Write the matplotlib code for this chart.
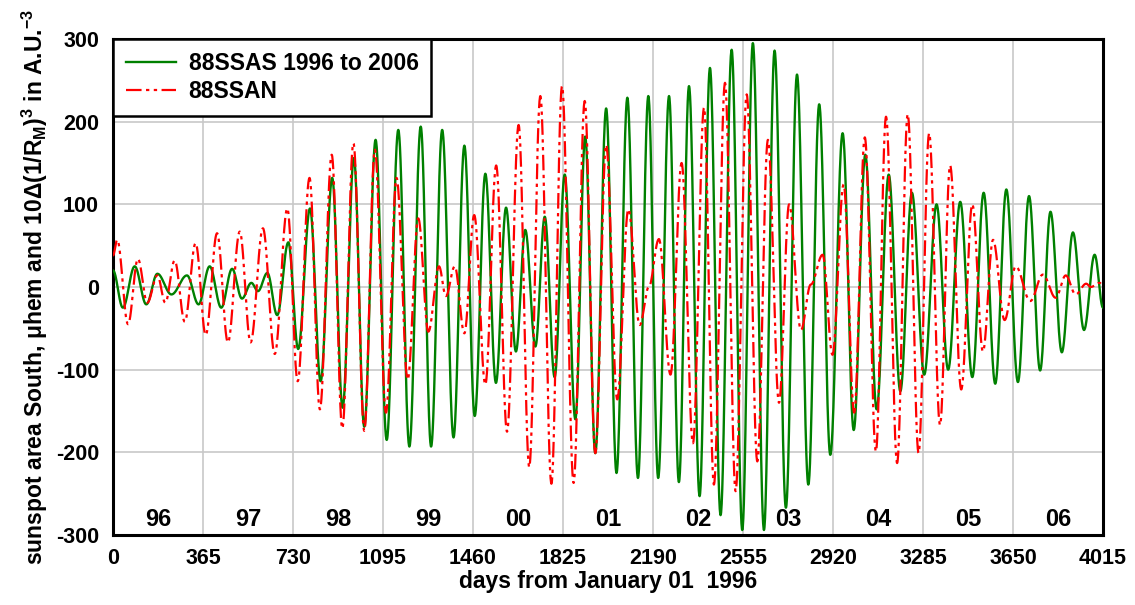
import numpy as np
import matplotlib
matplotlib.use("Agg")
import matplotlib.pyplot as plt

plt.rcParams['font.family'] = ['Liberation Sans', 'DejaVu Sans']
plt.rcParams['font.weight'] = 'bold'
plt.rcParams['mathtext.fontset'] = 'custom'
plt.rcParams['mathtext.rm'] = 'Liberation Sans:bold'
plt.rcParams['mathtext.it'] = 'Liberation Sans:bold'
plt.rcParams['mathtext.bf'] = 'Liberation Sans:bold'

# ---- data: extrema (day, value) ----
ssas_days = [0, 40, 88, 135, 180, 237, 300, 347, 392, 439, 483, 523, 561, 588, 626, 666,
             711, 751, 799, 842, 889, 931, 977, 1019, 1065, 1110, 1157, 1202, 1248, 1290,
             1335, 1381, 1425, 1467, 1510, 1553, 1594, 1634, 1672, 1713, 1751, 1791, 1832,
             1875, 1915, 1956, 2000, 2042, 2086, 2129, 2171, 2211, 2255, 2295, 2336, 2379,
             2421, 2464, 2509, 2552, 2595, 2640, 2683, 2729, 2774, 2820, 2864, 2909, 2959,
             3004, 3051, 3097, 3146, 3193, 3240, 3290, 3340, 3387, 3436, 3485, 3531, 3578,
             3623, 3670, 3715, 3760, 3802, 3848, 3893, 3938, 3981, 4015]
ssas_vals = [20, -25, 25, -21, 16, -9, 14, -21, 25, -25, 22, -14, 5, -5, 17, -34,
             54, -75, 95, -114, 132, -146, 156, -169, 178, -185, 190, -193, 194, -193,
             190, -182, 171, -156, 137, -116, 96, -78, 69, -72, 85, -109, 136,
             -160, 182, -201, 216, -225, 229, -231, 231, -231, 231, -236, 243, -253,
             265, -276, 287, -294, 295, -294, 286, -267, 257, -239, 221, -203, 186,
             -173, 160, -148, 136, -126, 114, -106, 100, -100, 103, -109, 114, -117,
             118, -115, 110, -101, 91, -79, 66, -52, 39, -25]

ssan_days = [0, 17, 61, 101, 139, 180, 212, 250, 291, 335, 376, 422, 466, 514, 558, 608, 656,
             707, 749, 797, 839, 887, 930, 975, 1019, 1062, 1107, 1150, 1195, 1238, 1279,
             1322, 1350, 1386, 1425, 1465, 1510, 1554, 1598, 1645, 1688, 1733, 1778, 1821,
             1868, 1913, 1956, 2000, 2045, 2090, 2136, 2173, 2214, 2261, 2306, 2352, 2397,
             2437, 2482, 2525, 2570, 2613, 2656, 2701, 2742, 2790, 2830, 2878, 2918, 2963,
             3006, 3049, 3094, 3135, 3180, 3223, 3267, 3310, 3354, 3395, 3440, 3485, 3528,
             3569, 3616, 3661, 3720, 3771, 3823, 3864, 3904, 3947, 3965, 4002, 4015]
ssan_vals = [38, 57, -45, 34, -19, 14, -19, 32, -42, 53, -58, 65, -67, 67, -67, 71, -81,
             95, -114, 132, -148, 160, -171, 174, -174, 166, -152, 132, -112, 83, -54,
             25, -11, 25, -56, 87, -118, 147, -175, 196, -218, 231, -238, 243,
             -237, 225, -201, 172, -136, 94, -46, 0, 58, -106, 150, -189, 217,
             -239, 247, -247, 233, -211, 178, -140, 100, -52, 3, 39, -82, 124,
             -152, 181, -199, 206, -213, 209, -201, 186, -167, 147, -124, 100, -78,
             57, -40, 25, -17, 15, -13, 14, -9, 4, 0, 5, 0]

x_ticks = [0, 365, 730, 1095, 1460, 1825, 2190, 2555, 2920, 3285, 3650, 4015]
y_ticks = [-300, -200, -100, 0, 100, 200, 300]
year_labels = ['96', '97', '98', '99', '00', '01', '02', '03', '04', '05', '06']


def smooth_through_extrema(days, vals, n=40):
    """Draw a smooth curve that has its turning points at the given extrema."""
    xs, ys = [], []
    for i in range(len(days) - 1):
        s = np.linspace(0, 1, n, endpoint=False)
        w = (1 - np.cos(np.pi * s)) / 2
        xs.append(days[i] + (days[i + 1] - days[i]) * s)
        ys.append(vals[i] + (vals[i + 1] - vals[i]) * w)
    xs.append([days[-1]])
    ys.append([vals[-1]])
    return np.concatenate(xs), np.concatenate(ys)


fig = plt.figure(figsize=(11.35, 6.05), dpi=100)
ax = fig.add_axes([113 / 1135, 1 - 535 / 605, 990 / 1135, 496 / 605])

gx, gy = smooth_through_extrema(ssas_days, ssas_vals)
rx, ry = smooth_through_extrema(ssan_days, ssan_vals)

ax.plot(gx, gy, color='#008000', lw=1.7, label='88SSAS 1996 to 2006', zorder=3)
ax.plot(rx, ry, color='#ff0000', lw=1.6, dashes=(7, 2, 1.5, 2, 1.5, 2),
        label='88SSAN', zorder=4)

ax.set_xlim(0, 4015)
ax.set_ylim(-300, 300)
ax.set_xticks(x_ticks)
ax.set_yticks(y_ticks)
ax.set_xticklabels([str(t) for t in x_ticks], fontsize=15.5, fontweight='bold')
ax.set_yticklabels([str(t) for t in y_ticks], fontsize=15.5, fontweight='bold')
ax.tick_params(axis='y', length=0, pad=10)
ax.tick_params(axis='x', length=0, pad=9)
ax.grid(True, color='#c8c8c8', lw=1.2)
ax.set_axisbelow(True)
for sp in ax.spines.values():
    sp.set_linewidth(2.2)
    sp.set_color('black')

for i, lab in enumerate(year_labels):
    ax.text(182.5 + 365 * i, -281, lab, ha='center', va='center',
            fontsize=17, fontweight='bold', zorder=5)

ax.set_xlabel('days from January 01  1996', fontsize=16.5, fontweight='bold', labelpad=1)
ax.set_ylabel('sunspot area South, μhem and 10Δ(1/R$_{M}$)$^{3}$ in A.U.$^{-3}$',
              fontsize=16.5, fontweight='bold', labelpad=4)

leg = ax.legend(loc='upper left', bbox_to_anchor=(0, 1), borderaxespad=0,
                fancybox=False, framealpha=1, edgecolor='black',
                prop={'size': 16.5, 'weight': 'bold'}, handlelength=2.2,
                borderpad=0.55, labelspacing=0.25, handletextpad=0.55)
leg.get_frame().set_linewidth(1.8)
leg.set_zorder(10)

fig.savefig('out.png', dpi=100)
